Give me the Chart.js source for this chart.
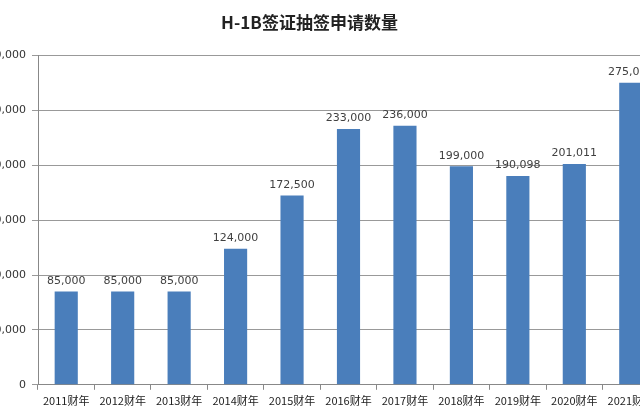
<!DOCTYPE html>
<html><head><meta charset="utf-8">
<script src="https://cdn.jsdelivr.net/npm/chart.js@4/dist/chart.umd.min.js"></script>
<style>html,body{margin:0;padding:0;background:#fff;overflow:hidden}
#wrap{position:absolute;left:-40px;top:0;width:720px;height:420px}</style>
</head><body><div id="wrap"><canvas id="c"></canvas></div>
<script>
const categories=["2011财年","2012财年","2013财年","2014财年","2015财年","2016财年","2017财年","2018财年","2019财年","2020财年","2021财年"];
const values=[85000,85000,85000,124000,172500,233000,236000,199000,190098,201011,275000];
const yTicks=[0,50000,100000,150000,200000,250000,300000];
const fmt=v=>v.toLocaleString('en-US');
const labelPlugin={id:'lbl',afterDatasetsDraw(ch){const c=ch.ctx;const m=ch.getDatasetMeta(0);c.save();c.font='11px "DejaVu Sans"';c.fillStyle='#404040';c.textAlign='center';c.textBaseline='bottom';
m.data.forEach((b,i)=>{c.fillText(fmt(values[i]),b.x,b.y-5)});c.restore();}};
new Chart(document.getElementById('c'),{type:'bar',
data:{labels:categories,datasets:[{data:values,backgroundColor:'#4a7ebb',barPercentage:0.82,categoryPercentage:0.5}]},
options:{responsive:true,maintainAspectRatio:false,animation:false,
layout:{padding:{top:0,right:21,bottom:9,left:0}},
plugins:{legend:{display:false},tooltip:{enabled:false},
title:{display:true,text:'H-1B签证抽签申请数量',color:'#222',font:{size:17,weight:'bold',family:'"Noto Sans CJK SC"'},padding:{top:12,bottom:23}}},
scales:{
x:{grid:{drawOnChartArea:false,offset:true,tickLength:5,color:'#888'},border:{color:'#888'},ticks:{color:'#222',font:{size:11,family:'"Noto Sans CJK SC"'},maxRotation:0,autoSkip:false,padding:4}},
y:{min:0,max:300000,afterBuildTicks(s){s.ticks=yTicks.map(v=>({value:v}))},afterFit(s){s.width=78},
grid:{color:'#999',tickLength:6},border:{color:'#888'},
ticks:{color:'#333',font:{size:11,family:'"DejaVu Sans"'},callback:v=>fmt(v),padding:6}}}},
plugins:[labelPlugin]});
</script></body></html>
